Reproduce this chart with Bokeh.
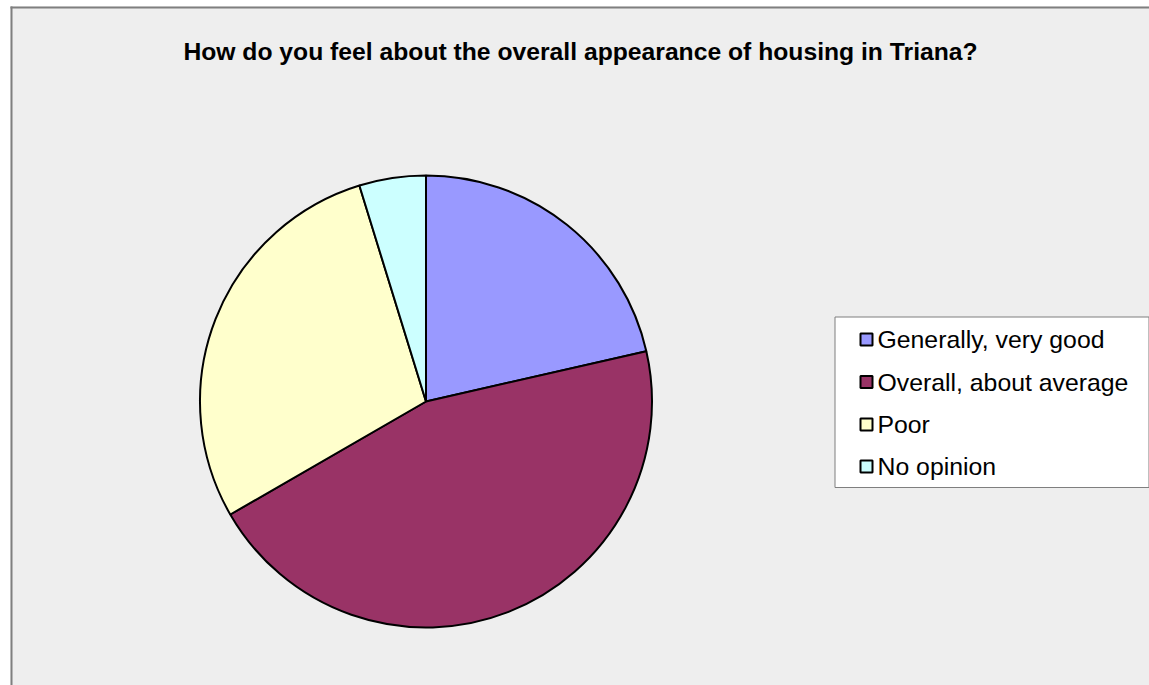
import math
from bokeh.plotting import figure
from bokeh.models import Range1d
from bokeh.core.properties import value
from bokeh.embed import file_html
from bokeh.resources import INLINE

# Data
categories = ["Generally, very good", "Overall, about average", "Poor", "No opinion"]
counts = [9, 19, 12, 2]
colors = ["#9999FF", "#993366", "#FFFFCC", "#CCFFFF"]
title_text = "How do you feel about the overall appearance of housing in Triana?"

W, H = 1149, 685

def sx(x):  # screen x -> plot x
    return x

def sy(y):  # screen y -> plot y
    return H - y

p = figure(width=W, height=H, x_range=Range1d(0, W), y_range=Range1d(0, H),
           output_backend="svg", toolbar_location=None, min_border=0)
p.axis.visible = False
p.grid.visible = False
p.outline_line_color = None
p.background_fill_color = "white"
p.border_fill_color = "white"

# chart area background
p.quad(left=[sx(10)], right=[W], bottom=[0], top=[sy(6)],
       fill_color="#EEEEEE", line_color=None)
# left and top border
p.segment(x0=[sx(11)], y0=[0], x1=[sx(11)], y1=[sy(6)], line_color="#7F7F7F", line_width=2)
p.segment(x0=[sx(10)], y0=[sy(7)], x1=[W], y1=[sy(7)], line_color="#7F7F7F", line_width=2)

# title
p.text(x=[sx(580)], y=[sy(50.5)], text=[title_text], text_align="center",
       text_baseline="middle", text_font=value("Liberation Sans"),
       text_font_size="24.7px", text_font_style="bold", text_color="black")

# pie
total = sum(counts)
cx, cy, r = sx(425.5), sy(401), 226
cum = 0.0
starts, ends = [], []
for c in counts:
    a0 = math.pi / 2 - 2 * math.pi * cum / total
    cum += c
    a1 = math.pi / 2 - 2 * math.pi * cum / total
    starts.append(a0)
    ends.append(a1)
p.wedge(x=[cx] * len(counts), y=[cy] * len(counts), radius=r, radius_units="screen",
        start_angle=starts, end_angle=ends, direction="clock",
        fill_color=colors, line_color="black", line_width=2)

# legend
p.quad(left=[sx(834.5)], right=[sx(1148.5)], bottom=[sy(487)], top=[sy(316.5)],
       fill_color="white", line_color="#7F7F7F", line_width=1)
row_y = [339, 381.5, 424, 466]
p.scatter(x=[sx(866)] * 4, y=[sy(v) for v in row_y], marker="square", size=12,
          fill_color=colors, line_color="black", line_width=2)
p.text(x=[sx(877)] * 4, y=[sy(v) for v in row_y], text=categories,
       text_align="left", text_baseline="middle", text_font=value("Liberation Sans"),
       text_font_size="24.8px", text_color="black")

open("out.html", "w").write(file_html(p, INLINE))
